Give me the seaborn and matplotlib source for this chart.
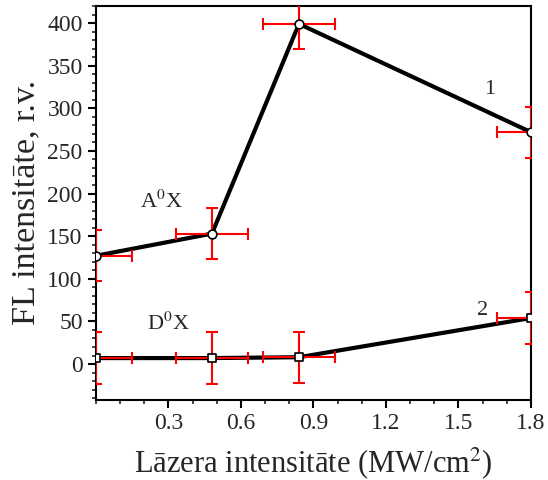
import pandas as pd
import matplotlib
matplotlib.use('Agg')
import matplotlib.pyplot as plt
from matplotlib.ticker import MultipleLocator
import seaborn as sns

# Dati
intensity = [0.0, 0.48, 0.84, 1.8]
fl_a0x = [127, 153, 399, 272]
fl_d0x = [7, 7, 8, 54]
x_err = [0.15, 0.15, 0.15, 0.14]
y_err_a0x = [30, 30, 30, 30]
y_err_d0x = [30, 30, 30, 30]

df = pd.DataFrame({'x': intensity * 2,
                   'y': fl_a0x + fl_d0x,
                   'series': ['1'] * 4 + ['2'] * 4})

sns.set_style('ticks')
plt.rcParams['font.family'] = ['Liberation Serif', 'DejaVu Serif']
plt.rcParams['mathtext.fontset'] = 'stix'

fig, ax = plt.subplots(figsize=(5.48, 4.8), dpi=100)
fig.subplots_adjust(left=0.175, right=0.969, bottom=0.167, top=0.9875)

# linee nere
sns.lineplot(data=df, x='x', y='y', units='series', estimator=None,
             color='black', linewidth=3, ax=ax, legend=False, zorder=2)

# barre di errore rosse
ax.errorbar(intensity, fl_a0x, xerr=x_err, yerr=y_err_a0x, fmt='none',
            ecolor='red', elinewidth=1.5, capsize=4, capthick=1.5, zorder=3)
ax.errorbar(intensity, fl_d0x, xerr=x_err, yerr=y_err_d0x, fmt='none',
            ecolor='red', elinewidth=1.5, capsize=4, capthick=1.5, zorder=3)

# marker
sns.scatterplot(x=intensity, y=fl_a0x, marker='o', s=40, color='white',
                edgecolor='black', linewidth=1.2, ax=ax, zorder=4)
sns.scatterplot(x=intensity, y=fl_d0x, marker='s', s=30, color='white',
                edgecolor='black', linewidth=1.2, ax=ax, zorder=4)

ax.text(0.27, 191, r'A$^0$X', fontsize=16, ha='center', va='center')
ax.text(0.30, 47, r'D$^0$X', fontsize=16, ha='center', va='center')
ax.text(1.63, 322, '1', fontsize=16, ha='center', va='center')
ax.text(1.60, 63, '2', fontsize=16, ha='center', va='center')

ax.set_xlim(0, 1.8)
ax.set_ylim(-42, 420)
ax.xaxis.set_minor_locator(MultipleLocator(0.1))
ax.yaxis.set_minor_locator(MultipleLocator(10))
ax.set_xticks([0.3, 0.6, 0.9, 1.2, 1.5, 1.8])
ax.set_xticklabels(['0.3', '0.6', '0.9', '1.2', '1.5', '1.8'])
ax.set_yticks([0, 50, 100, 150, 200, 250, 300, 350, 400])

ax.tick_params(axis='both', which='major', direction='out', length=6, width=1.5,
               labelsize=17, color='black')
ax.tick_params(axis='both', which='minor', direction='out', length=3, width=1.2)
for s in ax.spines.values():
    s.set_linewidth(1.5)
    s.set_color('black')

ax.set_xlabel('Lāzera intensitāte (MW/cm$^2$)', fontsize=22, labelpad=8)
ax.set_ylabel('FL intensitāte, r.v.', fontsize=24.5, labelpad=4)

fig.savefig('out.png', dpi=100)
